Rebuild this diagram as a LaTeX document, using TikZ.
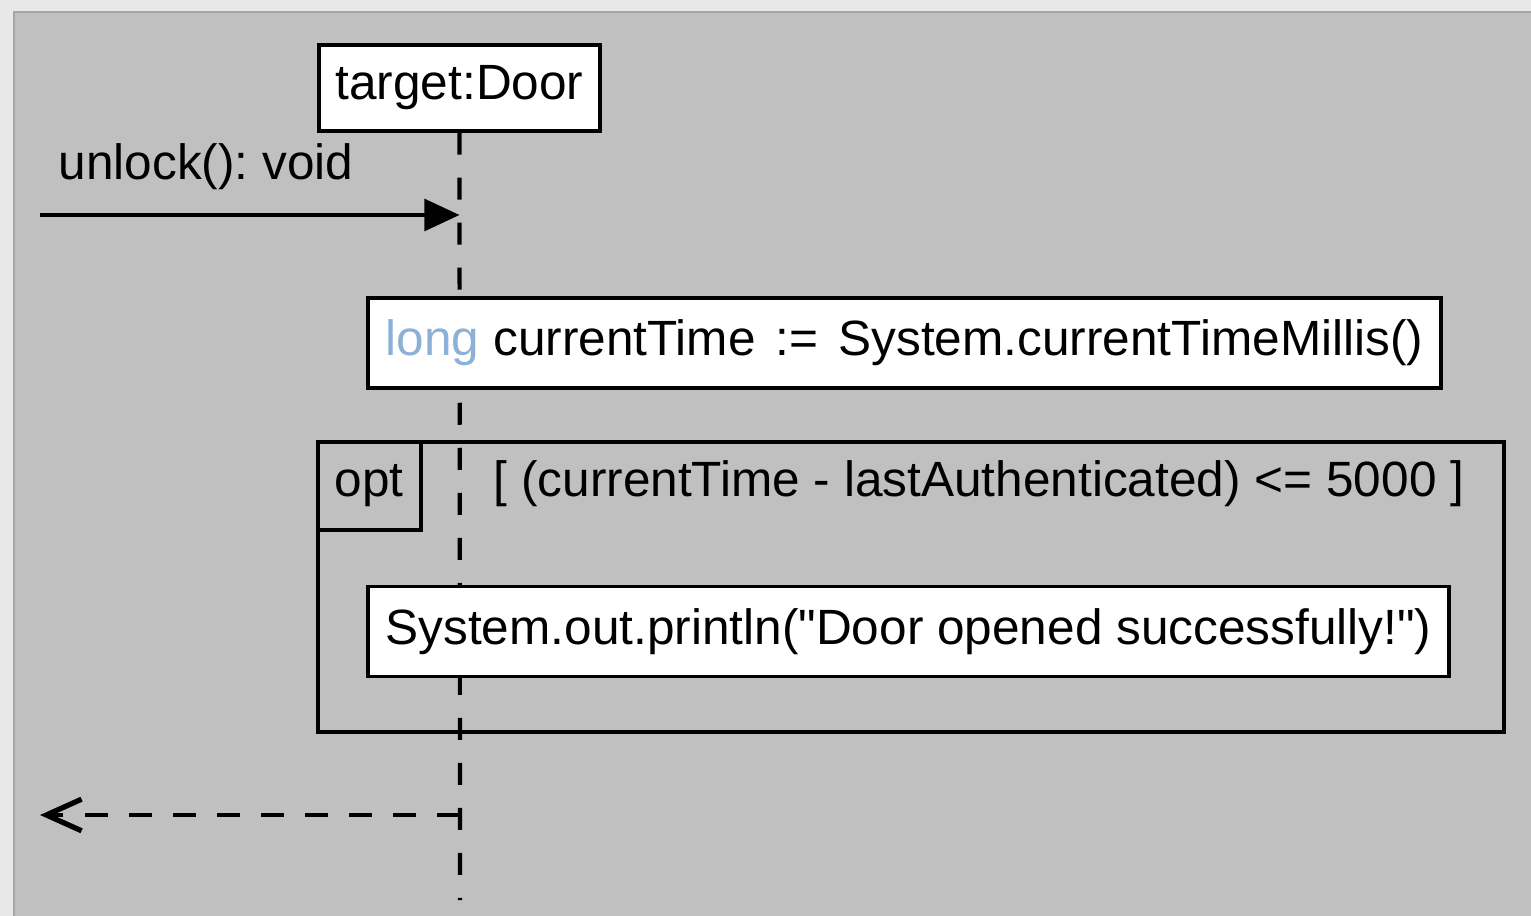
\documentclass[tikz,border=0pt]{standalone}
\usepackage{fontspec}
\setmainfont{Liberation Sans}[Ligatures=TeXOff]
\usepackage{xcolor}
\usetikzlibrary{positioning,arrows.meta}
\frenchspacing
\definecolor{panelgray}{RGB}{192,192,192}
\definecolor{outergray}{RGB}{232,232,232}
\definecolor{edgegray}{RGB}{165,165,165}
\definecolor{keyword}{RGB}{140,176,214}
\tikzset{
  obj/.style={draw, line width=1pt, fill=white, minimum width=2.81cm, minimum height=0.86cm, inner sep=0pt},
  action/.style={draw, line width=1.1pt, fill=white, minimum height=0.90cm, inner sep=0pt},
  frame/.style={draw, line width=1.1pt, minimum width=11.86cm, minimum height=2.90cm, inner sep=0pt},
  tab/.style={draw, line width=1pt, minimum width=1.03cm, minimum height=0.88cm, inner sep=0pt, anchor=north west},
  lbl/.style={anchor=base west, inner sep=0pt},
  lifeline/.style={line width=1.2pt, dash pattern=on 0.22cm off 0.23cm},
  call/.style={line width=1.2pt, -{Triangle[length=10pt,width=9pt]}},
  reply/.style={line width=1.2pt, dash pattern=on 0.23cm off 0.21cm, -{Straight Barb[length=10pt,width=9pt,line width=1.5pt]}}
}

\begin{document}
\begin{tikzpicture}[font=\fontsize{14.1}{16}\selectfont]
    \useasboundingbox (0,0) rectangle (15.31,-9.16);
    \fill[outergray] (0,0) rectangle (15.31,-9.16);
    \fill[panelgray] (0.14,-0.12) rectangle (15.31,-9.16);
    \draw[edgegray, line width=0.8pt] (0.14,-9.16) |- (15.31,-0.12);

    \node[obj] (door) at (4.595,-0.88) {target:Door};

    \coordinate (lifeEnd) at (4.60,-9.00);
    \draw[lifeline] (door.south) -- (lifeEnd);

    \node[action, minimum width=10.73cm] (settime) at (9.045,-3.43) {\textcolor{keyword}{long} currentTime\hspace{0.2cm}:=\hspace{0.2cm}System.currentTimeMillis()};

    \node[frame] (opt) at (9.11,-5.87) {};
    \node[tab] (opttab) at (opt.north west) {opt};
    \node[lbl] (guard) at (4.93,-4.97) {[ (currentTime - lastAuthenticated) <=\ 5000\ ]};

    \node[action, minimum width=10.81cm] (println) at (9.085,-6.315) {System.out.println("Door opened successfully!")};

    \coordinate (caller) at (0.40,-2.15);
    \coordinate (callee) at (door.south |- caller);
    \draw[call] (caller) -- (callee);
    \node[lbl] (unlocklbl) at (0.58,-1.80) {unlock(): void};

    \coordinate (back) at (0.40,-8.15);
    \coordinate (sender) at (door.south |- back);
    \draw[reply] (sender) -- (back);
\end{tikzpicture}
\end{document}
